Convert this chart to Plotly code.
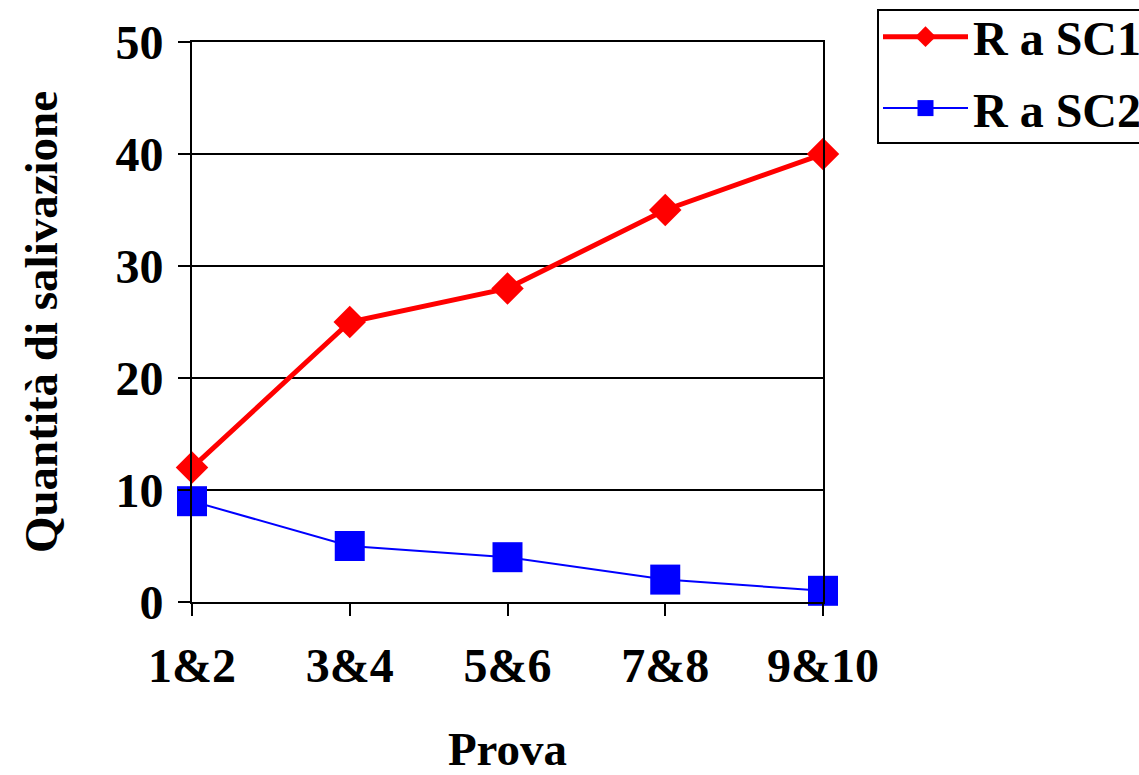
import plotly.graph_objects as go

categories = ["1&2", "3&4", "5&6", "7&8", "9&10"]
sc1 = [12, 25, 28, 35, 40]
sc2 = [9, 5, 4, 2, 1]
y_ticks = [0, 10, 20, 30, 40, 50]

FONT = "Liberation Serif"
xpos = list(range(len(categories)))

fig = go.Figure()
fig.add_trace(go.Scatter(
    x=xpos, y=sc1, name="R a SC1", mode="lines+markers",
    line=dict(color="#FF0000", width=5),
    marker=dict(symbol="diamond", size=25, color="#FF0000"),
    cliponaxis=False, legendgroup="a"))
fig.add_trace(go.Scatter(
    x=xpos, y=sc2, name="R a SC2", mode="lines+markers",
    line=dict(color="#0000FF", width=2),
    marker=dict(symbol="square", size=30, color="#0000FF"),
    cliponaxis=False, legendgroup="b"))

tickfont = dict(family=FONT, size=48, color="black", weight="bold")
titlefont = dict(family=FONT, size=47, color="black", weight="bold")

fig.update_layout(
    width=1139, height=775,
    margin=dict(l=192, r=316, t=42, b=173, autoexpand=False),
    paper_bgcolor="white", plot_bgcolor="white",
    font=dict(family=FONT, size=46, color="black"),
    showlegend=True,
    legend=dict(x=(878 - 192) / 631, xanchor="left", y=1 + 43 / 560, yanchor="top",
                borderwidth=0, bgcolor="rgba(0,0,0,0)",
                font=dict(family=FONT, size=48, color="black", weight="bold"),
                tracegroupgap=6, itemwidth=85, traceorder="grouped"),
    shapes=[dict(type="rect", xref="paper", yref="paper",
                 x0=(878 - 192) / 631, x1=(1150 - 192) / 631,
                 y0=1 - (143 - 42) / 560, y1=1 + (42 - 10) / 560,
                 line=dict(color="black", width=2), fillcolor="rgba(0,0,0,0)",
                 layer="above")],
    xaxis=dict(range=[0, 4], tickvals=xpos, ticktext=categories,
               tickfont=tickfont, ticklabelstandoff=8,
               showgrid=False, zeroline=False,
               showline=True, linecolor="black", linewidth=2, mirror=True,
               ticks="outside", ticklen=12, tickwidth=2, tickcolor="black",
               title=dict(text="Prova", font=titlefont, standoff=50)),
    yaxis=dict(range=[0, 50], tickvals=y_ticks, ticktext=[str(v) for v in y_ticks],
               tickfont=tickfont, ticklabelstandoff=5,
               showgrid=True, gridcolor="black", gridwidth=2, zeroline=False,
               showline=True, linecolor="black", linewidth=2, mirror=True,
               ticks="outside", ticklen=12, tickwidth=2, tickcolor="black",
               title=dict(text="Quantità di salivazione", font=titlefont, standoff=43)),
)

fig.write_html("out.html")
